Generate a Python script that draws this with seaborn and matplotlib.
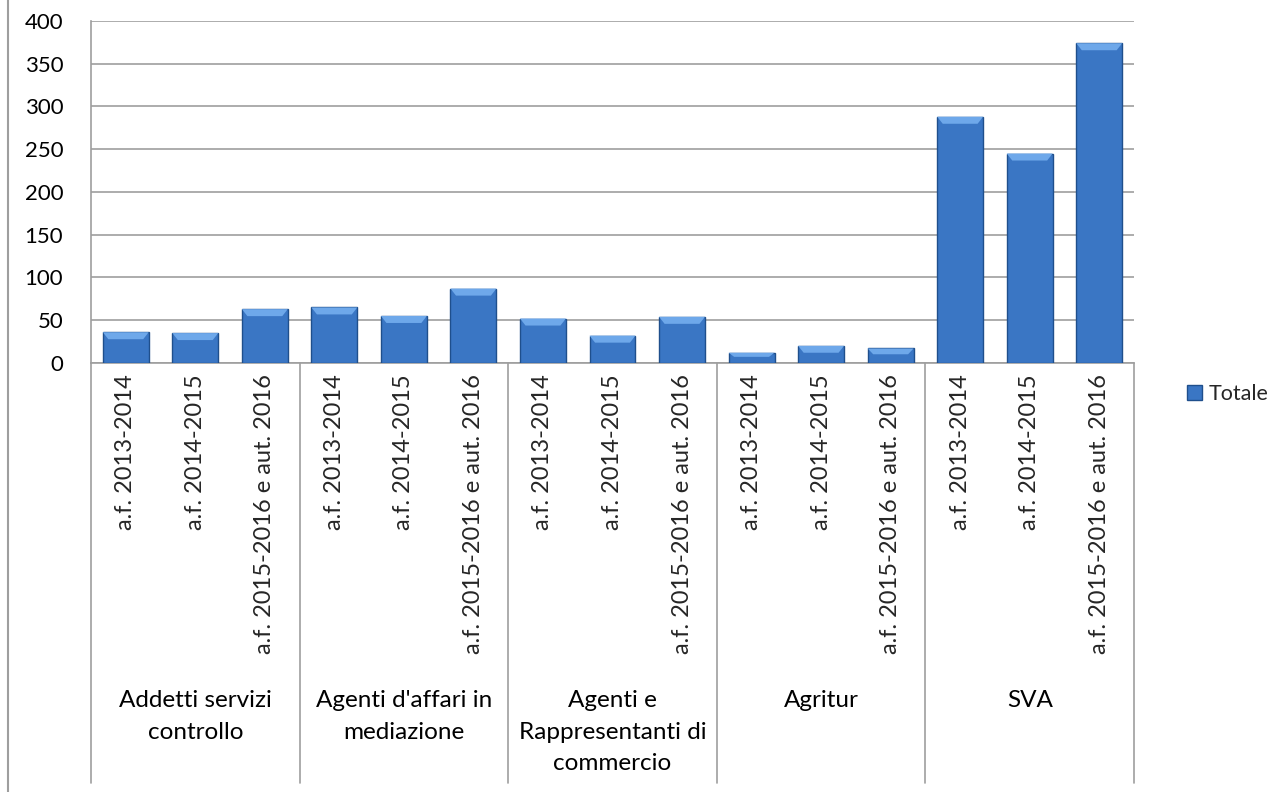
import matplotlib
matplotlib.use("Agg")
import matplotlib.pyplot as plt
import matplotlib.patches as mpatches
import seaborn as sns
import pandas as pd
import numpy as np

groups = ["Addetti servizi\ncontrollo", "Agenti d'affari in\nmediazione",
          "Agenti e\nRappresentanti di\ncommercio", "Agritur", "SVA"]
periods = ["a.f. 2013-2014", "a.f. 2014-2015", "a.f. 2015-2016 e aut. 2016"]
values_addetti = [36, 35, 63]
values_agenti_affari = [65, 55, 87]
values_agenti_rapp = [52, 32, 54]
values_agritur = [12, 20, 17]
values_sva = [288, 245, 374]
yticks = [0, 50, 100, 150, 200, 250, 300, 350, 400]
series_name = "Totale"

all_values = [values_addetti, values_agenti_affari, values_agenti_rapp, values_agritur, values_sva]
rows = []
for g, vals in zip(groups, all_values):
    for p, v in zip(periods, vals):
        rows.append({"group": g, "period": p, "value": v})
df = pd.DataFrame(rows)
df["pos"] = [f"{i}" for i in range(len(df))]

sns.set_theme(style="white")
plt.rcParams['font.family'] = ['Lato', 'DejaVu Sans']

W, H = 1279, 792
fig = plt.figure(figsize=(W / 100, H / 100), dpi=100)
L, R, T, B = 91, 1134, 21, 363
ax = fig.add_axes([L / W, 1 - B / H, (R - L) / W, (B - T) / H])

bar_color = "#3a76c4"
sns.barplot(data=df, x="pos", y="value", color=bar_color, width=0.66,
            edgecolor="#1f4f8c", linewidth=1.0, ax=ax, zorder=3, saturation=1)

# light bevel strip at the top of each bar (derived from the drawn bars)
px_per_unit = (B - T) / 400.0
bevel = 7 / px_per_unit
for p in list(ax.patches):
    x0, w, h = p.get_x(), p.get_width(), p.get_height()
    bh = min(bevel, h * 0.4)
    inset = w * 0.12
    poly = mpatches.Polygon([[x0, h], [x0 + w, h], [x0 + w - inset, h - bh], [x0 + inset, h - bh]],
                            closed=True, facecolor="#6ea8ea", edgecolor="none", zorder=4)
    ax.add_patch(poly)

ax.set_ylim(0, 400)
ax.set_xlim(-0.5, len(df) - 0.5)
ax.set_yticks(yticks)
ax.set_yticklabels([str(t) for t in yticks], fontsize=16, color="#000000")
ax.tick_params(axis="y", length=0, pad=20)
ax.yaxis.grid(True, color="#9e9e9e", linewidth=1.2, zorder=0)
ax.set_axisbelow(True)
ax.set_xlabel("")
ax.set_ylabel("")
ax.set_xticks(range(len(df)))
ax.set_xticklabels(df["period"].tolist(), rotation=90, fontsize=17, va="top")
ax.tick_params(axis="x", length=0, pad=8)
for s in ["top", "right"]:
    ax.spines[s].set_visible(False)
ax.spines["left"].set_color("#9e9e9e")
ax.spines["bottom"].set_color("#9e9e9e")
ax.spines["left"].set_linewidth(1.2)
ax.spines["bottom"].set_linewidth(1.2)

# group separators and labels
trans = ax.get_xaxis_transform()
ybot = -(783 - B) / (B - T)
for k in range(len(groups) + 1):
    xb = k * 3 - 0.5
    ax.plot([xb, xb], [0, ybot], transform=trans, color="#9e9e9e", lw=1.2, clip_on=False)
for k, g in enumerate(groups):
    xc = k * 3 + 1
    ax.text(xc, -(690 - B) / (B - T), g, transform=trans, ha="center", va="top",
            fontsize=17.5, linespacing=1.62, color="#000000")

# outer border line on the left
fig.add_artist(plt.Line2D([8 / W, 8 / W], [0, 1], color="#9e9e9e", lw=1.5))

handle = mpatches.Patch(facecolor=bar_color, edgecolor="#1f4f8c", label=series_name)
fig.legend(handles=[handle], loc="center left", bbox_to_anchor=(1168 / W, 1 - 394 / H),
           frameon=False, fontsize=15.5, handlelength=0.7, handleheight=0.7,
           handletextpad=0.3)

fig.savefig("out.png", dpi=100, facecolor="white")
